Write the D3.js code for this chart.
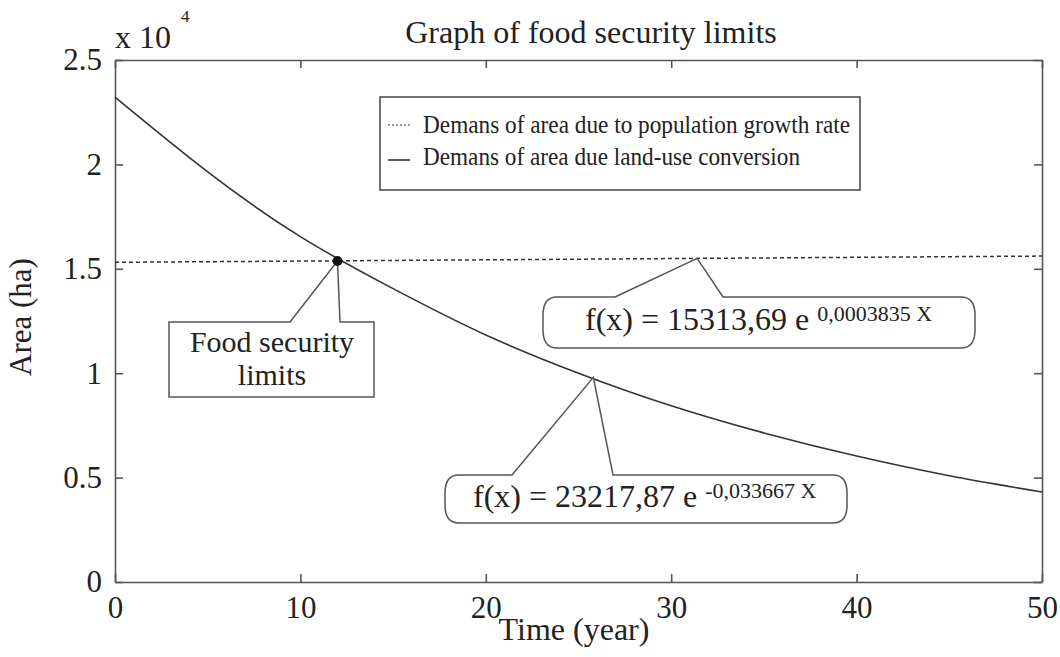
<!DOCTYPE html>
<html>
<head>
<meta charset="utf-8">
<script src="https://cdn.jsdelivr.net/npm/d3@7"></script>
<style>
  body { margin: 0; background: #fff; }
  text { font-family: "Liberation Serif", "Times New Roman", serif; fill: #222; }
</style>
</head>
<body>
<div id="chart"></div>
<script>
// values (area in ha)
var years = [0, 5, 10, 15, 20, 25, 30, 35, 40, 45, 50];
var landUse = [23220, 19640, 16540, 14050, 11830, 10000, 8440, 7140, 6030, 5090, 4310];
var popGrowth = [15310, 15340, 15370, 15400, 15430, 15460, 15490, 15520, 15550, 15580, 15610];
var yTicks = [0, 5000, 10000, 15000, 20000, 25000];
var xTicks = [0, 10, 20, 30, 40, 50];
var legendLabels = ["Demans of area due to population growth rate", "Demans of area due land-use conversion"];
var limitPoint = [{ year: 12.0, area: 15370 }];
var eqTips = [{ year: 31.4, area: 15500 }, { year: 25.8, area: 9800 }];

var margin = { top: 60, right: 18, bottom: 75, left: 115 },
    width = 1060 - margin.left - margin.right,
    height = 657 - margin.top - margin.bottom;

var svg = d3.select("#chart")
    .append("svg")
    .attr("width", 1060)
    .attr("height", 657)
    .append("g")
    .attr("transform", "translate(" + margin.left + "," + margin.top + ")");

var x = d3.scaleLinear().domain([0, 50]).range([0, width]);
var y = d3.scaleLinear().domain([0, 25000]).range([height, 0]);

var axisColor = "#555";

// axes, ticks pointing inward
svg.append("g")
    .attr("class", "axis")
    .attr("transform", "translate(0," + height + ")")
    .call(d3.axisBottom(x).tickValues(xTicks).tickSizeInner(-8).tickSizeOuter(0).tickPadding(14));
svg.append("g")
    .attr("class", "axis")
    .call(d3.axisLeft(y).tickValues(yTicks).tickSizeInner(-8).tickSizeOuter(0).tickPadding(13)
        .tickFormat(function (d) { return String(d / 10000); }));
svg.append("g")
    .attr("class", "axis mirror")
    .call(d3.axisTop(x).tickValues(xTicks).tickSizeInner(-8).tickSizeOuter(0).tickFormat(""));
svg.append("g")
    .attr("class", "axis mirror")
    .attr("transform", "translate(" + width + ",0)")
    .call(d3.axisRight(y).tickValues(yTicks).tickSizeInner(-8).tickSizeOuter(0).tickFormat(""));

svg.selectAll(".axis path, .axis line").attr("stroke", axisColor).attr("stroke-width", 1.6);
svg.selectAll(".axis text").style("font-size", "31px").attr("fill", "#222");

// exponent marker and labels
svg.append("text").attr("x", 0).attr("y", -12).style("font-size", "32px").text("x 10");
svg.append("text").attr("x", 66).attr("y", -38).style("font-size", "17px").text("4");

svg.append("text")
    .attr("x", 476).attr("y", -17)
    .attr("text-anchor", "middle")
    .style("font-size", "32px")
    .text("Graph of food security limits");

svg.append("text")
    .attr("x", 459).attr("y", height + 58)
    .attr("text-anchor", "middle")
    .style("font-size", "32px")
    .text("Time (year)");

svg.append("text")
    .attr("transform", "translate(-84," + (height / 2 - 4) + ") rotate(-90)")
    .attr("text-anchor", "middle")
    .style("font-size", "31px")
    .text("Area (ha)");

// series
var lineColor = "#333";
var line = d3.line()
    .x(function (d, i) { return x(years[i]); })
    .y(function (d) { return y(d); })
    .curve(d3.curveNatural);

svg.append("path")
    .datum(popGrowth)
    .attr("fill", "none")
    .attr("stroke", lineColor)
    .attr("stroke-width", 1.5)
    .attr("stroke-dasharray", "4,3")
    .attr("d", line);

svg.append("path")
    .datum(landUse)
    .attr("fill", "none")
    .attr("stroke", lineColor)
    .attr("stroke-width", 1.6)
    .attr("d", line);

// legend
var legend = svg.append("g").attr("transform", "translate(265,37)");
legend.append("rect")
    .attr("width", 480).attr("height", 93)
    .attr("fill", "#fff").attr("stroke", "#444").attr("stroke-width", 1.5);
legend.selectAll(".lg").data(legendLabels).enter()
    .append("line")
    .attr("x1", 8).attr("x2", 30)
    .attr("y1", function (d, i) { return 28 + i * 35; })
    .attr("y2", function (d, i) { return 28 + i * 35; })
    .attr("stroke", lineColor)
    .attr("stroke-width", function (d, i) { return i === 0 ? 1.2 : 1.6; })
    .attr("stroke-dasharray", function (d, i) { return i === 0 ? "2,2" : null; });
legend.selectAll(".lt").data(legendLabels).enter()
    .append("text")
    .attr("x", 43)
    .attr("y", function (d, i) { return 36 + i * 32; })
    .style("font-size", "26px")
    .attr("textLength", function (d, i) { return i === 0 ? 427 : 377; })
    .attr("lengthAdjust", "spacingAndGlyphs")
    .text(function (d) { return d; });

// callout outline: box with a pointer on its top edge
function callout(x0, y0, x1, y1, b1, b2, tx, ty, rx, ry) {
    var p = d3.path();
    p.moveTo(b1, y0);
    p.lineTo(tx, ty);
    p.lineTo(b2, y0);
    if (rx > 0) {
        p.lineTo(x1 - rx, y0);
        p.quadraticCurveTo(x1, y0, x1, y0 + ry);
        p.lineTo(x1, y1 - ry);
        p.quadraticCurveTo(x1, y1, x1 - rx, y1);
        p.lineTo(x0 + rx, y1);
        p.quadraticCurveTo(x0, y1, x0, y1 - ry);
        p.lineTo(x0, y0 + ry);
        p.quadraticCurveTo(x0, y0, x0 + rx, y0);
    } else {
        p.lineTo(x1, y0);
        p.lineTo(x1, y1);
        p.lineTo(x0, y1);
        p.lineTo(x0, y0);
    }
    p.closePath();
    return p.toString();
}

var boxStroke = "#555";

// food security limits
var lp = limitPoint[0];
svg.append("path")
    .attr("d", callout(54, 262, 259, 337, 175, 225, x(lp.year), y(lp.area), 0, 0))
    .attr("fill", "#fff").attr("stroke", boxStroke).attr("stroke-width", 1.5);
svg.append("text").attr("x", 157).attr("y", 292).attr("text-anchor", "middle")
    .style("font-size", "30px").text("Food security");
svg.append("text").attr("x", 157).attr("y", 325).attr("text-anchor", "middle")
    .style("font-size", "30px").text("limits");
svg.selectAll(".dot").data(limitPoint).enter()
    .append("circle")
    .attr("cx", function (d) { return x(d.year); })
    .attr("cy", function (d) { return y(d.area); })
    .attr("r", 5)
    .attr("fill", "#111");

// equation callouts
var t1 = eqTips[0];
svg.append("path")
    .attr("d", callout(428, 237, 860, 288, 500, 608, x(t1.year), y(t1.area), 14, 18))
    .attr("fill", "#fff").attr("stroke", boxStroke).attr("stroke-width", 1.5);
var e1 = svg.append("text").attr("x", 470).attr("y", 270).style("font-size", "32px");
e1.append("tspan").text("f(x) = 15313,69 e ");
e1.append("tspan").attr("dy", -9).style("font-size", "22px").text("0,0003835 X");

var t2 = eqTips[1];
svg.append("path")
    .attr("d", callout(330, 415, 732, 463, 397, 498, x(t2.year), y(t2.area), 14, 18))
    .attr("fill", "#fff").attr("stroke", boxStroke).attr("stroke-width", 1.5);
var e2 = svg.append("text").attr("x", 358).attr("y", 447).style("font-size", "32px");
e2.append("tspan").text("f(x) = 23217,87 e ");
e2.append("tspan").attr("dy", -9).style("font-size", "22px").text("-0,033667 X");
</script>
</body>
</html>
